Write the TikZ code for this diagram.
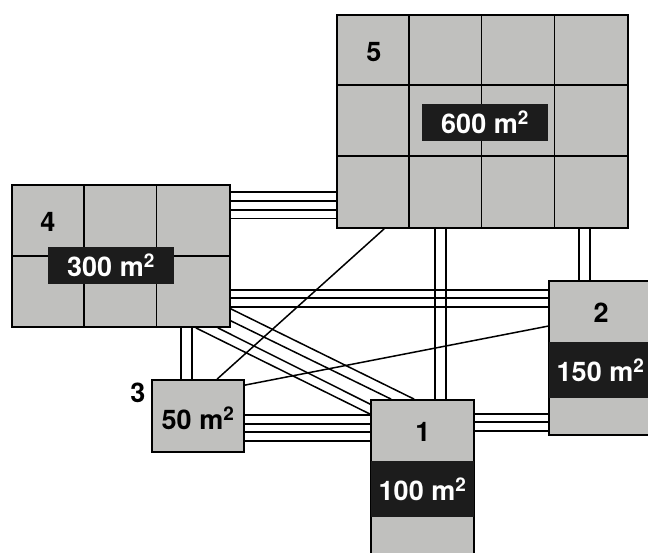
\documentclass[tikz,border=0pt]{standalone}
\usepackage{fontspec}
\setsansfont{TeX Gyre Heros}
\usepackage{tikz}
\usetikzlibrary{calc}
\definecolor{plan-grey}{RGB}{192,192,190}
\definecolor{plan-dark}{RGB}{28,28,28}

\begin{document}
\begin{tikzpicture}[x=1pt, y=1pt,
  room/.style={draw, line width=1.8pt, fill=plan-grey, inner sep=0pt},
  tag/.style={fill=plan-dark, text=white, inner sep=0pt, minimum height=37pt, font=\sffamily\bfseries\fontsize{27}{27}\selectfont},
  num/.style={font=\sffamily\bfseries\fontsize{27}{27}\selectfont, inner sep=0pt},
  pipe/.style={line width=1.5pt},
  cell/.style={line width=1.5pt},
]
  \useasboundingbox (0,0) rectangle (648,-552);
  \clip (0,0) rectangle (648,-552);

  % Rooms
  \node[room, minimum width=291pt, minimum height=213pt] (b5) at (482.5,-121.5) {};
  \node[room, minimum width=218pt, minimum height=142pt] (b4) at (121,-256) {};
  \node[room, minimum width=92pt, minimum height=72pt] (b3) at (198,-416) {};
  \node[room, minimum width=103pt, minimum height=154pt] (b2) at (600.5,-358) {};
  \node[room, minimum width=103pt, minimum height=154pt] (b1) at (422.5,-477) {};

  % Cells
  \foreach \i in {1,2,3}
    \draw[cell] ($(b5.north west)+(\i*72.75,0)$) -- ($(b5.south west)+(\i*72.75,0)$);
  \foreach \j in {1,2}
    \draw[cell] ($(b5.north west)+(0,-\j*71)$) -- ($(b5.north east)+(0,-\j*71)$);
  \foreach \i in {1,2}
    \draw[cell] ($(b4.north west)+(\i*72.7,0)$) -- ($(b4.south west)+(\i*72.7,0)$);
  \draw[cell] (b4.west) -- (b4.east);

  % Areas
  \node[tag, minimum width=126pt] (a5) at (485,-122.5) {600 m\textsuperscript{2}};
  \node[tag, minimum width=126pt] (a4) at (111,-265.5) {300 m\textsuperscript{2}};
  \node[tag, minimum width=103pt, minimum height=56pt] (a2) at (600.5,-370) {150 m\textsuperscript{2}};
  \node[tag, minimum width=103pt, minimum height=56pt] (a1) at (422.5,-489) {100 m\textsuperscript{2}};
  \node[num] (a3) at (198,-418) {50 m\textsuperscript{2}};

  % Numbers
  \node[num] (n5) at (374,-52) {5};
  \node[num] (n4) at (48,-222) {4};
  \node[num] (n3) at (138,-393) {3};
  \node[num] (n2) at (601,-313) {2};
  \node[num] (n1) at (423,-432) {1};

  % Straight links
  \foreach \o in {8,17,26,34.5}
    \draw[pipe] ($(b4.north east)+(0,-\o)$) coordinate (p) -- (p -| b5.west);
  \foreach \o in {106,114,123}
    \draw[pipe] ($(b4.north east)+(0,-\o)$) coordinate (p) -- (p -| b2.west);
  \foreach \o in {36,45,53,62}
    \draw[pipe] ($(b3.north east)+(0,-\o)$) coordinate (p) -- (p -| b1.west);
  \foreach \o in {15,23,32}
    \draw[pipe] ($(b1.north east)+(0,-\o)$) coordinate (p) -- (p -| b2.west);
  \foreach \o in {65,76}
    \draw[pipe] ($(b1.north west)+(\o,0)$) coordinate (p) -- (p |- b5.south);
  \foreach \o in {31,42}
    \draw[pipe] ($(b2.north west)+(\o,0)$) coordinate (p) -- (p |- b5.south);
  \foreach \o in {30,41}
    \draw[pipe] ($(b3.north west)+(\o,0)$) coordinate (p) -- (p |- b4.south);

  % Slanted links
  \draw[pipe] ($(b4.south east)+(0,19)$) -- ($(b1.north west)+(44,0)$);
  \draw[pipe] ($(b4.south east)+(0,7)$) -- ($(b1.north west)+(21,0)$);
  \draw[pipe] ($(b4.south east)+(-13,0)$) -- ($(b1.north west)+(0,-5)$);
  \draw[pipe] ($(b4.south east)+(-35,0)$) -- ($(b1.north west)+(0,-15)$);
  \draw[pipe] ($(b3.north west)+(66,0)$) -- ($(b5.south west)+(48,0)$);
  \draw[pipe] ($(b3.north east)+(0,-6)$) -- ($(b2.north west)+(0,-46)$);
\end{tikzpicture}
\end{document}
